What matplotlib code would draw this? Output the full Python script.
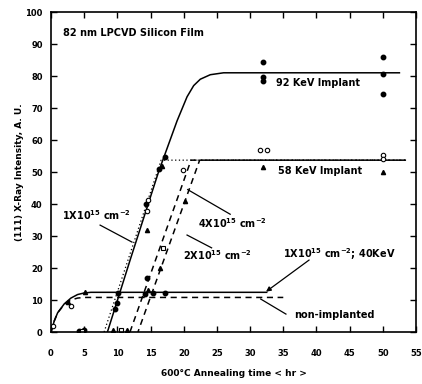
import matplotlib
matplotlib.use('Agg')
import matplotlib.pyplot as plt

plt.rcParams['font.family'] = 'DejaVu Sans'
plt.rcParams['font.weight'] = 'bold'
plt.rcParams['mathtext.default'] = 'bf'

# ---- curves ----
# 1e15 cm-2, 92 KeV implant (solid)
kev92_x = [8.5, 12.0, 16.2, 19.0, 20.5, 21.5, 22.5, 24.0, 26.0, 52.5]
kev92_y = [0.0, 23.0, 50.0, 66.0, 73.5, 77.0, 79.0, 80.4, 81.0, 81.0]

# 1e15 cm-2, 58 KeV implant (dotted)
kev58_1_x = [8.0, 16.6, 53.5]
kev58_1_y = [0.0, 53.7, 53.7]

# 2e15 cm-2 (dashed)
kev58_2_x = [11.9, 21.1, 53.5]
kev58_2_y = [0.0, 53.7, 53.7]

# 4e15 cm-2 (dashed)
kev58_4_x = [13.1, 22.4, 53.5]
kev58_4_y = [0.0, 53.7, 53.7]

# 1e15 cm-2, 40 KeV (solid, early saturation)
kev40_x = [0.0, 0.5, 1.0, 2.0, 3.0, 4.0, 5.0, 6.0, 32.5]
kev40_y = [0.0, 3.5, 6.0, 8.8, 10.6, 11.7, 12.2, 12.4, 12.4]

# non-implanted (dashed)
nonimp_x = [0.0, 0.5, 1.0, 2.0, 3.0, 4.0, 5.0, 35.0]
nonimp_y = [0.0, 3.5, 6.0, 8.6, 10.0, 10.6, 10.8, 10.8]

# ---- measured points ----
filled_x = [32.0, 32.0, 32.0, 50.0, 50.0, 50.0, 17.2, 16.3, 14.3, 14.5, 14.2,
            17.2, 15.4, 10.1, 10.0, 9.6, 4.2, 5.0]
filled_y = [84.5, 79.6, 78.3, 86.0, 80.5, 74.5, 54.7, 50.8, 40.0, 16.8, 12.0,
            12.3, 12.3, 12.3, 9.0, 7.2, 0.4, 0.5]

open_x = [31.5, 32.5, 50.0, 50.0, 14.6, 14.5, 19.9, 3.0, 0.3]
open_y = [56.9, 56.9, 55.3, 54.0, 41.3, 37.8, 50.6, 8.2, 1.8]

tri_x = [32.0, 50.0, 14.5, 16.4, 5.1, 2.6, 14.6, 16.8, 9.3, 11.5, 20.2]
tri_y = [51.6, 50.0, 32.0, 20.0, 12.6, 9.4, 13.2, 52.0, 0.5, 0.5, 41.0]

sq_x = [16.9, 10.6, 4.6]
sq_y = [26.2, 0.6, 0.4]

x_ticks = list(range(0, 60, 5))
y_ticks = list(range(0, 110, 10))

fig = plt.figure(figsize=(4.22, 3.84), dpi=100)
ax = fig.add_axes([51 / 422, 52 / 384, 365 / 422, 320 / 384])

lw = 1.1
ax.plot(kev92_x, kev92_y, color='black', lw=lw)
ax.plot(kev58_1_x, kev58_1_y, color='black', lw=0.9, ls=(0, (1, 2)))
ax.plot(kev58_2_x, kev58_2_y, color='black', lw=lw, ls=(0, (4, 3)))
ax.plot(kev58_4_x, kev58_4_y, color='black', lw=lw, ls=(2, (4, 3)))
ax.plot(kev40_x, kev40_y, color='black', lw=lw)
ax.plot(nonimp_x, nonimp_y, color='black', lw=lw, ls=(0, (4, 3)))

ax.plot(filled_x, filled_y, 'o', color='black', ms=3.2, ls='none')
ax.plot(open_x, open_y, 'o', mfc='white', mec='black', mew=0.8, ms=3.2, ls='none')
ax.plot(tri_x, tri_y, '^', color='black', ms=3.0, ls='none')
ax.plot(sq_x, sq_y, 's', mfc='white', mec='black', mew=0.8, ms=3.0, ls='none')

# ---- labels ----
fs = 7
ax.text(1.8, 93.4, '82 nm LPCVD Silicon Film', fontsize=fs, va='center')
ax.text(33.9, 77.8, '92 KeV Implant', fontsize=fs, va='center')
ax.text(34.2, 50.3, '58 KeV Implant', fontsize=fs, va='center')
ax.text(1.7, 36.6, '1X10$^{15}$ cm$^{-2}$', fontsize=fs, va='center')
ax.text(22.2, 34.0, '4X10$^{15}$ cm$^{-2}$', fontsize=fs, va='center')
ax.text(19.9, 24.0, '2X10$^{15}$ cm$^{-2}$', fontsize=fs, va='center')
ax.text(34.9, 24.4, '1X10$^{15}$ cm$^{-2}$; 40KeV', fontsize=fs, va='center')
ax.text(36.6, 5.3, 'non-implanted', fontsize=fs, va='center')

ax.plot([7.4, 12.2], [33.4, 28.1], color='black', lw=0.9)
ax.plot([27.0, 20.6], [36.8, 44.5], color='black', lw=0.9)
ax.plot([24.2, 20.5], [26.3, 30.3], color='black', lw=0.9)
ax.plot([35.4, 31.6], [5.6, 10.3], color='black', lw=0.9)
ax.annotate('', xy=(32.4, 12.6), xytext=(38.9, 22.5),
            arrowprops=dict(arrowstyle='-|>', color='black', lw=0.9,
                            mutation_scale=7, shrinkA=0, shrinkB=0))

ax.set_xlim(0, 55)
ax.set_ylim(0, 100)
ax.set_xticks(x_ticks)
ax.set_yticks(y_ticks)
ax.tick_params(direction='in', top=True, right=True, length=4, width=1,
               labelsize=6)
ax.tick_params(axis='x', pad=12)
ax.tick_params(axis='y', pad=6)
for s in ax.spines.values():
    s.set_linewidth(1.2)

ax.set_xlabel('600°C Annealing time < hr >', fontsize=6.5, fontweight='bold',
              labelpad=8)
ax.set_ylabel('(111) X-Ray Intensity, A. U.', fontsize=6.5, fontweight='bold',
              labelpad=1)

fig.savefig('out.png', dpi=100, facecolor='white')
